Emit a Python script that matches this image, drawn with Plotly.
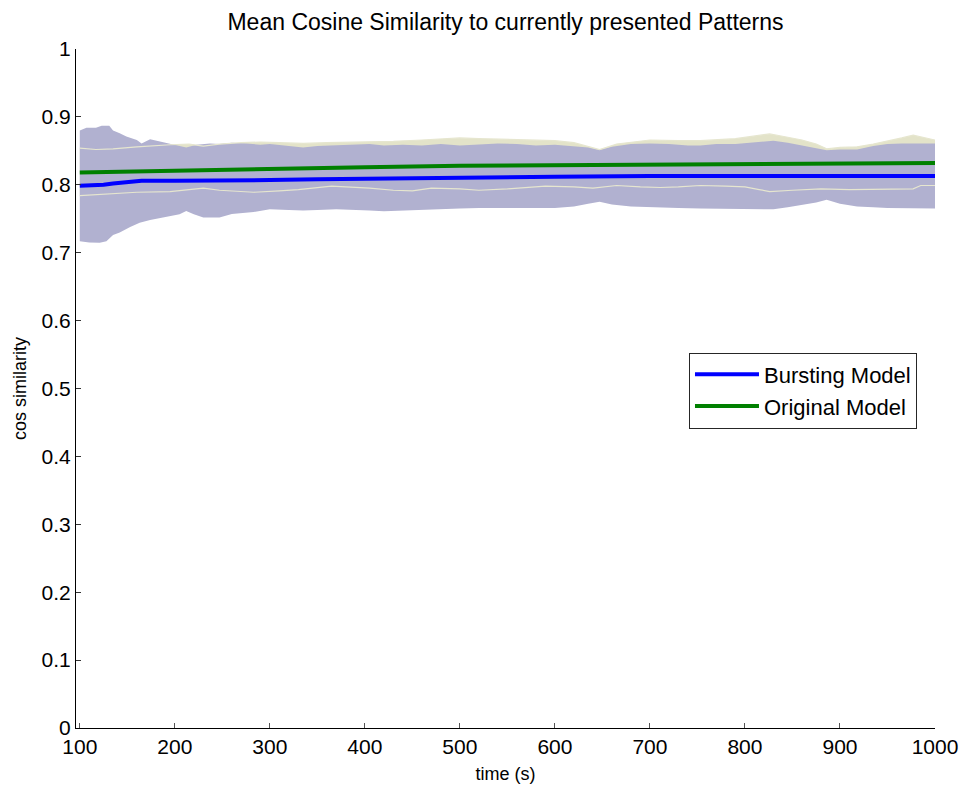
import plotly.graph_objects as go

# ---- data ----
# Bursting model: mean and band edges
t_bm = [100, 115, 125, 135, 150, 165, 200, 250, 300, 350, 400, 450, 500, 550, 600, 700, 800, 900, 1000]
burst_mean = [0.7985, 0.799, 0.800, 0.802, 0.804, 0.806, 0.806, 0.806, 0.807, 0.808, 0.809, 0.810,
              0.811, 0.8115, 0.812, 0.813, 0.813, 0.813, 0.813]

t_bu = [100, 107, 117, 123, 131, 135, 142, 149, 160, 165, 174, 184, 195, 205, 212, 223, 237, 247, 260,
        275, 290, 300, 315, 335, 350, 370, 390, 405, 420, 440, 460, 480, 500, 520, 540, 560, 580, 600,
        620, 635, 647, 660, 680, 700, 720, 740, 753, 770, 790, 810, 830, 845, 860, 875, 886, 900, 918,
        935, 950, 965, 977, 990, 1000]
burst_upper = [0.880, 0.884, 0.884, 0.887, 0.887, 0.880, 0.876, 0.871, 0.866, 0.861, 0.867, 0.864, 0.860,
               0.857, 0.855, 0.859, 0.861, 0.860, 0.862, 0.861, 0.859, 0.860, 0.858, 0.855, 0.857, 0.858,
               0.859, 0.860, 0.858, 0.859, 0.858, 0.860, 0.858, 0.859, 0.861, 0.860, 0.858, 0.859, 0.857,
               0.855, 0.851, 0.856, 0.860, 0.861, 0.860, 0.858, 0.858, 0.860, 0.860, 0.862, 0.865, 0.862,
               0.858, 0.855, 0.851, 0.852, 0.852, 0.857, 0.860, 0.861, 0.861, 0.860, 0.861]

t_bl = [100, 110, 121, 128, 135, 142, 153, 163, 174, 184, 195, 205, 212, 220, 230, 247, 260, 283, 300,
        320, 335, 350, 370, 390, 405, 420, 440, 460, 480, 500, 520, 550, 575, 600, 620, 635, 647, 660,
        680, 711, 730, 753, 770, 790, 810, 830, 845, 860, 875, 886, 900, 918, 935, 950, 977, 1000]
burst_lower = [0.717, 0.715, 0.7145, 0.717, 0.726, 0.7296, 0.738, 0.744, 0.748, 0.751, 0.754, 0.7565,
               0.7615, 0.7565, 0.7517, 0.752, 0.757, 0.760, 0.764, 0.763, 0.762, 0.763, 0.764, 0.763,
               0.762, 0.761, 0.762, 0.763, 0.764, 0.765, 0.766, 0.767, 0.766, 0.766, 0.768, 0.772, 0.775,
               0.771, 0.768, 0.767, 0.766, 0.765, 0.764, 0.765, 0.764, 0.764, 0.767, 0.770, 0.774, 0.778,
               0.772, 0.768, 0.767, 0.766, 0.765, 0.765]

# Original model: mean and band edges
t_gm = [100, 200, 300, 400, 500, 600, 700, 800, 900, 1000]
orig_mean = [0.818, 0.821, 0.824, 0.826, 0.828, 0.829, 0.830, 0.831, 0.832, 0.832]

t_gu = [100, 117, 135, 160, 195, 205, 215, 230, 247, 270, 290, 310, 335, 360, 400, 430, 460, 480, 500,
        520, 553, 580, 600, 620, 647, 665, 700, 730, 753, 790, 810, 826, 845, 860, 875, 886, 900, 918,
        935, 950, 965, 977, 990, 1000]
orig_upper = [0.854, 0.852, 0.853, 0.856, 0.859, 0.859, 0.860, 0.857, 0.860, 0.862, 0.863, 0.862, 0.861,
              0.862, 0.863, 0.864, 0.866, 0.867, 0.869, 0.868, 0.867, 0.866, 0.865, 0.862, 0.852, 0.860,
              0.866, 0.865, 0.865, 0.868, 0.872, 0.875, 0.870, 0.866, 0.860, 0.853, 0.855, 0.856, 0.860,
              0.864, 0.869, 0.873, 0.869, 0.866]

t_gl = [100, 125, 160, 195, 230, 247, 283, 310, 330, 365, 405, 430, 450, 470, 500, 520, 550, 590, 620,
        640, 665, 690, 711, 730, 753, 780, 800, 815, 826, 850, 880, 910, 930, 960, 977, 985, 1000]
orig_lower = [0.784, 0.786, 0.789, 0.790, 0.795, 0.792, 0.789, 0.791, 0.793, 0.798, 0.795, 0.792, 0.791,
              0.795, 0.794, 0.792, 0.794, 0.798, 0.797, 0.795, 0.799, 0.797, 0.796, 0.797, 0.799, 0.798,
              0.797, 0.793, 0.790, 0.792, 0.794, 0.793, 0.793, 0.794, 0.794, 0.799, 0.799]

x_ticks = [100, 200, 300, 400, 500, 600, 700, 800, 900, 1000]
y_ticks = [0, 0.1, 0.2, 0.3, 0.4, 0.5, 0.6, 0.7, 0.8, 0.9, 1]
y_tick_text = ["0", "0.1", "0.2", "0.3", "0.4", "0.5", "0.6", "0.7", "0.8", "0.9", "1"]

BAND_B = "#b1b1d0"
BAND_G = "#e3e3c9"
EDGE_G = "#e6e6cf"
FONT = "Arial, 'Liberation Sans', sans-serif"

fig = go.Figure()

fig.add_trace(go.Scatter(x=t_gu + t_gl[::-1], y=orig_upper + orig_lower[::-1], fill="toself",
                         fillcolor=BAND_G, line=dict(width=0), mode="lines",
                         showlegend=False, hoverinfo="skip"))
fig.add_trace(go.Scatter(x=t_bu + t_bl[::-1], y=burst_upper + burst_lower[::-1], fill="toself",
                         fillcolor=BAND_B, line=dict(width=0), mode="lines",
                         showlegend=False, hoverinfo="skip"))
fig.add_trace(go.Scatter(x=t_gu, y=orig_upper, mode="lines", line=dict(color=EDGE_G, width=1.2),
                         showlegend=False, hoverinfo="skip"))
fig.add_trace(go.Scatter(x=t_gl, y=orig_lower, mode="lines", line=dict(color=EDGE_G, width=1.2),
                         showlegend=False, hoverinfo="skip"))
fig.add_trace(go.Scatter(x=t_bm, y=burst_mean, mode="lines", name="Bursting Model",
                         line=dict(color="#0000ff", width=4)))
fig.add_trace(go.Scatter(x=t_gm, y=orig_mean, mode="lines", name="Original Model",
                         line=dict(color="#008000", width=4)))

fig.update_layout(
    width=968, height=786,
    margin=dict(l=76, r=33, t=49, b=58, autoexpand=False),
    paper_bgcolor="white", plot_bgcolor="white",
    font=dict(family=FONT, color="black"),
    title=dict(text="Mean Cosine Similarity to currently presented Patterns",
               x=0.5, xref="paper", xanchor="center", y=1 - 22 / 786, yanchor="middle",
               font=dict(size=23, family=FONT, color="black")),
    legend=dict(x=0.7136, y=0.497, xanchor="left", yanchor="middle",
                bgcolor="white", bordercolor="#262626", borderwidth=1,
                font=dict(size=22, family=FONT, color="black"),
                tracegroupgap=0, itemwidth=64),
    showlegend=True,
)

fig.update_xaxes(range=[96, 1000], tickvals=x_ticks, ticks="inside", ticklen=5, tickcolor="#555",
                 showline=True, linecolor="black", linewidth=1, showgrid=False, zeroline=False,
                 automargin=False,
                 tickfont=dict(size=21, family=FONT, color="black"),
                 title=dict(text="time (s)", font=dict(size=18, family=FONT, color="black"), standoff=10))
fig.update_yaxes(range=[0, 1], tickvals=y_ticks, ticktext=y_tick_text, ticks="inside", ticklen=5,
                 tickcolor="#333", showline=True, linecolor="black", linewidth=1, showgrid=False,
                 zeroline=False, automargin=False, tickfont=dict(size=21, family=FONT, color="black"),
                 title=dict(text="cos similarity", font=dict(size=18, family=FONT, color="black"),
                            standoff=10))

fig.write_html("out.html")
